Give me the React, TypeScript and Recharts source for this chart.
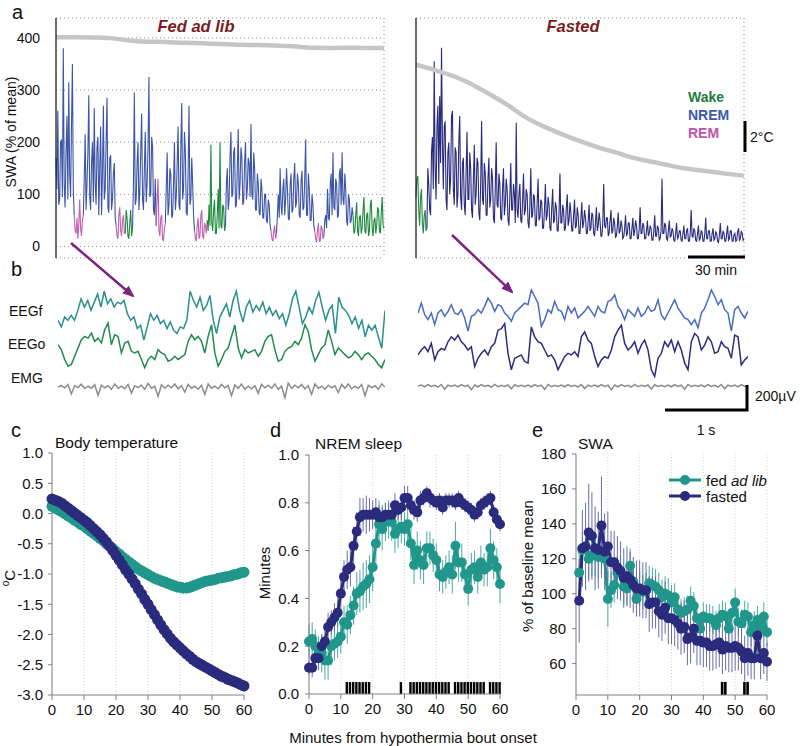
import React from "react";
import {
  ComposedChart, LineChart, Line, Bar, XAxis, YAxis, CartesianGrid, ErrorBar, Legend,
} from "recharts";

const FONT = "Arial, 'Liberation Sans', Helvetica, sans-serif";

// ---------- panel a: SWA over ~3 h, 30-s samples ----------
const MIN_TICKS = [0, 10, 20, 30, 40, 50, 60, 70, 80, 90, 100, 110, 120, 130, 140, 150, 160, 170, 180];
const SWA_TICKS = [0, 100, 200, 300, 400];

const fedSwa = [
  170, 110, 260, 80, 90, 200, 205, 95, 380, 120,
  75, 180, 250, 90, 315, 140, 95, 230, 350, 110,
  60, 30, 25, 55, 15, 40, 90, 35, 20, 50,
  60, 130, 215, 70, 120, 180, 290, 95, 70, 160,
  200, 85, 265, 120, 80, 190, 210, 60, 150, 230,
  60, 140, 270, 90, 110, 200, 285, 75, 65, 170,
  175, 70, 90, 140, 160, 55, 40, 20, 15, 60,
  75, 30, 20, 50, 60, 25, 25, 70, 55, 20,
  15, 45, 70, 20, 35, 120, 295, 80, 90, 160,
  200, 70, 110, 180, 255, 90, 70, 150, 220, 85,
  120, 190, 325, 95, 100, 210, 190, 70, 60, 130,
  40, 90, 130, 30, 20, 55, 60, 15, 10, 35,
  45, 110, 180, 60, 80, 150, 140, 55, 60, 120,
  200, 70, 95, 160, 230, 80, 70, 190, 275, 90,
  110, 220, 180, 65, 60, 140, 270, 80, 90, 170,
  120, 60, 30, 15, 10, 40, 55, 15, 20, 60,
  70, 20, 15, 45, 40, 25, 50, 30, 80, 40,
  195, 45, 30, 70, 90, 25, 25, 60, 110, 35,
  200, 40, 35, 80, 75, 30, 40, 120, 150, 70,
  90, 170, 220, 95, 100, 180, 190, 75, 80, 150,
  225, 90, 120, 190, 170, 80, 85, 160, 200, 90,
  110, 170, 160, 95, 235, 100, 90, 180, 150, 70,
  70, 140, 120, 65, 60, 130, 110, 55, 55, 100,
  100, 50, 45, 90, 80, 40, 30, 15, 10, 30,
  40, 15, 25, 60, 100, 55, 150, 80, 60, 110,
  130, 60, 90, 150, 110, 55, 50, 120, 140, 65,
  70, 130, 160, 75, 85, 140, 120, 60, 55, 125,
  145, 70, 75, 130, 205, 60, 60, 140, 110, 50,
  50, 100, 80, 40, 30, 15, 8, 30, 45, 10,
  10, 40, 35, 15, 20, 50, 60, 35, 110, 55,
  50, 120, 140, 60, 180, 75, 70, 130, 120, 55,
  60, 140, 150, 80, 180, 90, 80, 140, 110, 50,
  40, 100, 90, 45, 50, 75, 60, 25, 30, 60,
  85, 30, 20, 55, 60, 25, 35, 70, 95, 30,
  25, 60, 65, 20, 30, 80, 90, 35, 20, 50,
  55, 25, 40, 75, 70, 30, 25, 65, 95, 40,
  35,
];
const fedStates = [
  ["NREM", 0, 10], ["REM", 10, 15], ["NREM", 15, 33], ["REM", 33, 38], ["Wake", 38, 42],
  ["NREM", 42, 55], ["REM", 55, 60], ["NREM", 60, 76], ["REM", 76, 83], ["Wake", 83, 93],
  ["NREM", 93, 118], ["REM", 118, 121], ["NREM", 121, 142], ["REM", 142, 147],
  ["NREM", 147, 163], ["Wake", 163, 180],
];
const fedTemp = [38.25, 38.25, 38.24, 38.2, 38.05, 37.97, 37.95, 37.9, 37.87, 37.82, 37.78, 37.75, 37.72, 37.68, 37.58, 37.57, 37.58, 37.57, 37.57];

const fastedSwa = [
  95, 130, 135, 70, 40, 95, 110, 45, 25, 60,
  70, 30, 35, 150, 120, 70, 60, 180, 210, 110,
  355, 150, 90, 230, 270, 120, 288, 160, 381, 200,
  110, 230, 240, 90, 70, 180, 200, 100, 130, 250,
  260, 110, 80, 190, 180, 75, 100, 200, 250, 95,
  70, 160, 170, 80, 60, 140, 220, 90, 90, 180,
  150, 70, 55, 130, 195, 80, 100, 170, 160, 65,
  50, 120, 240, 90, 80, 160, 140, 60, 60, 130,
  170, 75, 90, 150, 130, 55, 45, 110, 200, 80,
  75, 140, 120, 55, 50, 110, 150, 60, 80, 130,
  110, 50, 40, 95, 160, 70, 70, 120, 100, 45,
  237, 70, 55, 100, 120, 50, 45, 90, 140, 60,
  70, 110, 100, 45, 35, 80, 150, 55, 60, 100,
  95, 40, 40, 85, 130, 50, 55, 90, 85, 35,
  35, 70, 120, 50, 60, 95, 80, 35, 30, 75,
  110, 45, 50, 85, 75, 30, 30, 65, 140, 45,
  45, 80, 70, 30, 35, 75, 100, 40, 50, 85,
  65, 30, 30, 60, 90, 35, 40, 75, 60, 25,
  25, 55, 85, 35, 45, 70, 55, 25, 25, 50,
  80, 30, 35, 65, 60, 25, 20, 45, 75, 30,
  40, 65, 50, 20, 20, 45, 120, 40, 35, 55,
  55, 20, 25, 50, 70, 25, 30, 55, 45, 18,
  20, 40, 65, 25, 30, 50, 40, 15, 18, 35,
  60, 20, 25, 45, 45, 15, 15, 35, 55, 20,
  30, 50, 40, 15, 15, 35, 75, 25, 25, 45,
  40, 15, 15, 30, 50, 20, 25, 40, 35, 12,
  12, 30, 60, 20, 20, 40, 35, 12, 15, 30,
  130, 25, 25, 45, 40, 15, 12, 30, 50, 18,
  20, 35, 30, 12, 10, 25, 45, 15, 18, 30,
  30, 12, 10, 25, 40, 15, 15, 30, 35, 10,
  10, 25, 70, 20, 18, 35, 30, 12, 10, 25,
  40, 12, 15, 30, 28, 10, 10, 25, 55, 15,
  15, 30, 30, 10, 10, 25, 35, 12, 15, 28,
  25, 10, 8, 22, 45, 15, 15, 30, 25, 10,
  10, 25, 40, 12, 15, 30, 30, 10, 10, 22,
  25, 10, 12, 28, 35, 12, 15, 30, 25, 12,
  15,
];
const fastedStates = [["Wake", 0, 6], ["NREM", 6, 180]];
const fastedTemp = [36.48, 36.15, 35.77, 35.26, 34.6, 33.9, 33.1, 32.5, 32.0, 31.55, 31.15, 30.8, 30.45, 30.2, 29.95, 29.75, 29.6, 29.45, 29.32];

// ---------- panel b: raw traces (µV, 4 s) ----------
const eegfFed = [
  -26, -78, 0, -26, 13, -26, 52, 143, 78, 130, 52, 117, 182, 78, 203, 104, 143, 78, 117, 104,
  130, 26, -26, 0, -91, -65, -182, -78, 26, -26, 13, -52, -26, -91, -39, -104, -130, -78, -91, -26,
  203, 130, 78, 156, 52, 91, 169, -26, -130, 0, 52, 104, 0, 130, 203, 52, -39, 78, 130, 39,
  91, 52, 117, 26, 78, 13, 52, -13, 26, -65, 26, 143, 203, 78, -52, 0, 78, 26, 130, 195,
  78, -26, 52, 91, -130, 156, 78, 52, 13, -52, 0, -91, -26, -156, -65, -104, -65, -156, -247, 52,
];
const eegoFed = [
  26, -13, -91, -143, -130, -65, 0, 65, 91, 78, 117, 52, 78, 39, 143, 195, 26, 104, 91, -39,
  39, 52, -26, -39, -26, -91, -156, -91, -65, -91, -13, -39, -52, -104, -91, -65, -91, -70, -52, 52,
  104, 65, 91, 52, -39, 91, 182, -39, -143, -91, -26, 0, 91, 182, 0, -78, -13, -39, -26, -13,
  -65, -26, 52, 91, 104, -13, -104, -91, -26, 0, 13, 52, 26, 78, 182, 130, -13, -104, -52, 0,
  26, 143, 52, -52, 0, -26, -52, -78, -65, -26, -52, -91, -52, -39, -65, -91, -130, -156, -91,
];
const emgFed = [
  0, 12, -8, 18, -55, 10, -5, 22, -12, 6, -10, 18, -65, 14, -6, 10, -18, 24, -10, 6,
  -14, 20, -48, 10, -4, 14, -18, 28, -10, 6, -75, 18, -10, 14, -6, 24, -14, 10, -40, 20,
  -10, 6, -18, 14, -58, 24, -10, 6, -14, 20, -6, 10, -68, 16, -10, 24, -18, 6, -14, 10,
  -50, 20, -6, 14, -10, 24, -18, 6, -85, 30, -10, 14, -6, 20, -14, 10, -58, 24, -10, 6,
  -18, 14, -6, 10, -45, 20, -10, 24, -14, 6, -10, 20, -70, 14, -6, 10, -18, 24, 0,
];
const eegfFasted = [
  0, 78, -13, -52, 0, -91, 0, 26, -26, 13, 65, 0, -13, 26, -39, -143, -26, -13, 26, 0,
  52, 117, 78, 13, 65, 52, 0, -26, -65, 0, 26, 52, 78, 65, 182, 130, 78, -104, -52, 26,
  0, 91, 26, 13, -52, 52, 0, 39, -39, -13, 13, 52, 13, -26, 52, 13, 0, 91, 104, 143,
  52, 13, -52, 26, 0, -26, 39, -26, 0, 52, 13, 26, 104, -13, -52, 0, 52, 104, 39, 0,
  -39, -52, -91, -52, -117, 0, 39, 104, 182, 130, 65, 104, 26, 0, -143, 26, 52, 0, -39, 13,
];
const eegoFasted = [
  -39, 0, 26, -13, 52, -78, -13, 13, 0, 65, 104, 78, 117, 65, 39, 0, 26, -130, -65, -26,
  0, -39, 26, 52, 156, 169, 208, -26, -156, -65, -52, -39, -91, -104, 182, 104, 65, 52, 0, -52,
  -39, -78, -156, -104, -52, -26, -39, -13, -52, 104, 143, 78, 52, -52, -130, -78, -52, -65, 0, 104,
  156, 195, 52, 0, 26, 65, -26, 39, 78, 0, -156, -208, -65, -26, 65, 26, 78, -13, 65, 0,
  -104, -156, 65, 130, 104, 0, 39, 104, 65, -26, -13, 65, 26, 13, -65, 117, 104, -117, -78, -52,
];
const emgFasted = [
  0, 8, -6, 10, -4, 6, -8, 12, -25, 6, -4, 8, -6, 10, -4, 6, -30, 8, -6, 10,
  -4, 6, -8, 12, -5, 6, -4, 8, -22, 10, -4, 6, -6, 8, -6, 10, -4, 6, -28, 12,
  -5, 6, -4, 8, -6, 10, -4, 6, -8, 12, -20, 6, -4, 8, -6, 10, -4, 6, -30, 8,
  -6, 10, -4, 6, -8, 12, -5, 6, -4, 8, -24, 10, -4, 6, -6, 8, -6, 10, -4, 6,
  -26, 12, -5, 6, -4, 8, -6, 10, -4, 6, -8, 12, -22, 6, -4, 8, -6, 10, -4, 6,
];

// ---------- panels c-e: 1-min means ----------
const X_TICKS = [0, 10, 20, 30, 40, 50, 60];

const tempFed = [
  0.12, 0.09, 0.06, 0.03, 0.0, -0.04, -0.07, -0.11, -0.14, -0.18,
  -0.21, -0.25, -0.29, -0.33, -0.37, -0.41, -0.45, -0.5, -0.54, -0.58,
  -0.63, -0.67, -0.72, -0.76, -0.8, -0.84, -0.88, -0.92, -0.95, -0.98,
  -1.01, -1.04, -1.07, -1.09, -1.11, -1.13, -1.15, -1.17, -1.19, -1.21,
  -1.22, -1.23, -1.23, -1.22, -1.2, -1.18, -1.16, -1.14, -1.12, -1.11,
  -1.1, -1.09, -1.07, -1.06, -1.05, -1.04, -1.03, -1.01, -1.0, -0.98, -0.97,
];
const tempFedErr = [
  0.03, 0.03, 0.03, 0.03, 0.03, 0.03, 0.03, 0.03, 0.03, 0.03,
  0.03, 0.03, 0.03, 0.03, 0.04, 0.05, 0.05, 0.06, 0.07, 0.08,
  0.09, 0.09, 0.1, 0.1, 0.1, 0.1, 0.1, 0.1, 0.1, 0.1,
  0.1, 0.1, 0.1, 0.1, 0.1, 0.1, 0.1, 0.1, 0.1, 0.1,
  0.1, 0.1, 0.1, 0.1, 0.1, 0.09, 0.09, 0.09, 0.09, 0.09,
  0.09, 0.09, 0.09, 0.09, 0.09, 0.09, 0.09, 0.09, 0.09, 0.09, 0.09,
];
const tempFasted = [
  0.24, 0.22, 0.2, 0.17, 0.13, 0.09, 0.05, 0.01, -0.03, -0.07,
  -0.11, -0.15, -0.2, -0.25, -0.3, -0.35, -0.41, -0.47, -0.54, -0.61,
  -0.69, -0.77, -0.85, -0.93, -1.0, -1.08, -1.16, -1.25, -1.33, -1.42,
  -1.5, -1.59, -1.67, -1.76, -1.84, -1.92, -1.99, -2.06, -2.12, -2.17,
  -2.22, -2.27, -2.32, -2.36, -2.41, -2.45, -2.48, -2.51, -2.54, -2.57,
  -2.6, -2.63, -2.66, -2.69, -2.71, -2.74, -2.76, -2.78, -2.8, -2.83, -2.85,
];
const tempFastedErr = [
  0.03, 0.03, 0.03, 0.03, 0.03, 0.03, 0.03, 0.03, 0.03, 0.03,
  0.03, 0.03, 0.03, 0.03, 0.03, 0.03, 0.03, 0.03, 0.03, 0.03,
  0.03, 0.03, 0.03, 0.03, 0.03, 0.03, 0.03, 0.03, 0.03, 0.03,
  0.04, 0.04, 0.05, 0.05, 0.05, 0.06, 0.06, 0.07, 0.07, 0.08,
  0.08, 0.08, 0.09, 0.09, 0.09, 0.09, 0.09, 0.1, 0.1, 0.1,
  0.1, 0.1, 0.1, 0.1, 0.1, 0.1, 0.1, 0.1, 0.1, 0.1, 0.1,
];

const nremFed = [
  0.22, 0.23, 0.2, 0.17, 0.17, 0.14, 0.14, 0.2, 0.21, 0.22,
  0.24, 0.3, 0.29, 0.33, 0.37, 0.42, 0.43, 0.45, 0.46, 0.48,
  0.53, 0.63, 0.71, 0.69, 0.72, 0.73, 0.72, 0.67, 0.69, 0.7,
  0.69, 0.71, 0.63, 0.54, 0.6, 0.56, 0.54, 0.61, 0.61, 0.58,
  0.56, 0.5, 0.49, 0.51, 0.53, 0.5, 0.62, 0.55, 0.55, 0.5,
  0.44, 0.52, 0.53, 0.49, 0.55, 0.52, 0.53, 0.61, 0.56, 0.53, 0.46,
];
const nremFedErr = [
  0.07, 0.07, 0.07, 0.07, 0.08, 0.08, 0.08, 0.08, 0.07, 0.07,
  0.07, 0.07, 0.08, 0.08, 0.08, 0.09, 0.09, 0.1, 0.1, 0.1,
  0.1, 0.1, 0.1, 0.09, 0.08, 0.08, 0.08, 0.08, 0.08, 0.07,
  0.07, 0.07, 0.07, 0.08, 0.08, 0.08, 0.08, 0.07, 0.07, 0.07,
  0.07, 0.07, 0.07, 0.07, 0.07, 0.08, 0.1, 0.08, 0.08, 0.07,
  0.07, 0.07, 0.07, 0.07, 0.07, 0.07, 0.08, 0.08, 0.08, 0.08, 0.08,
];
const nremFasted = [
  0.11, 0.11, 0.15, 0.15, 0.2, 0.22, 0.28, 0.3, 0.32, 0.34,
  0.42, 0.49, 0.52, 0.53, 0.62, 0.68, 0.74, 0.75, 0.75, 0.75,
  0.75, 0.76, 0.74, 0.74, 0.75, 0.75, 0.75, 0.79, 0.77, 0.78,
  0.82, 0.82, 0.79, 0.77, 0.76, 0.81, 0.82, 0.84, 0.82, 0.81,
  0.8, 0.81, 0.78, 0.81, 0.81, 0.81, 0.8, 0.82, 0.8, 0.79,
  0.78, 0.77, 0.75, 0.76, 0.79, 0.8, 0.81, 0.82, 0.76, 0.73, 0.71,
];
const nremFastedErr = [
  0.03, 0.04, 0.04, 0.05, 0.05, 0.06, 0.06, 0.05, 0.06, 0.06,
  0.07, 0.07, 0.08, 0.08, 0.08, 0.08, 0.08, 0.07, 0.08, 0.07,
  0.06, 0.06, 0.05, 0.05, 0.05, 0.05, 0.05, 0.05, 0.04, 0.05,
  0.05, 0.05, 0.04, 0.04, 0.04, 0.04, 0.03, 0.03, 0.04, 0.03,
  0.03, 0.03, 0.03, 0.03, 0.03, 0.03, 0.03, 0.03, 0.03, 0.03,
  0.03, 0.03, 0.03, 0.03, 0.03, 0.03, 0.03, 0.03, 0.03, 0.03, 0.03,
];
const nremSig = [12, 13, 14, 15, 16, 17, 18, 19, 29, 32, 33, 34, 35, 36, 37, 38, 39, 40, 41, 42, 43, 44,
  46, 47, 48, 49, 50, 51, 52, 53, 54, 55, 57, 58, 59, 60];

// SWA minutes 1..60
const swaFed = [
  112, 125, 127, 120, 122, 122, 121, 121, 120, 97,
  102, 105, 112, 112, 104, 103, 116, 107, 97, 103,
  101, 102, 106, 105, 104, 102, 98, 100, 99, 95,
  98, 91, 89, 90, 91, 96, 93, 86, 80, 87,
  86, 86, 85, 82, 86, 88, 87, 80, 89, 95,
  84, 83, 88, 87, 78, 82, 85, 80, 87, 78,
];
const swaFedErr = [
  12, 10, 10, 12, 12, 12, 12, 12, 10, 16,
  10, 10, 10, 10, 10, 10, 10, 10, 10, 10,
  10, 10, 10, 10, 10, 10, 10, 10, 10, 10,
  8, 8, 8, 8, 8, 8, 8, 8, 8, 8,
  8, 8, 8, 8, 8, 8, 8, 8, 8, 8,
  8, 8, 8, 8, 8, 8, 8, 8, 8, 8,
];
const swaFasted = [
  96, 126, 127, 135, 133, 126, 125, 139, 124, 127,
  118, 118, 115, 113, 109, 110, 108, 105, 103, 103,
  102, 102, 94, 95, 95, 90, 88, 92, 86, 86,
  85, 83, 80, 81, 74, 75, 80, 73, 73, 72,
  72, 70, 70, 71, 72, 68, 70, 69, 69, 70,
  69, 67, 63, 66, 63, 63, 76, 63, 66, 61,
];
const swaFastedErr = [
  24, 22, 25, 28, 25, 24, 22, 28, 22, 20,
  18, 18, 18, 17, 17, 17, 16, 16, 16, 16,
  16, 16, 16, 15, 15, 15, 15, 15, 15, 15,
  15, 15, 15, 15, 15, 15, 14, 14, 14, 14,
  14, 14, 14, 14, 14, 14, 14, 14, 14, 14,
  13, 13, 13, 13, 12, 12, 12, 12, 12, 11,
];
const swaSig = [46, 47, 53, 54];
const LEGEND_ORDER = ["fed ad lib", "fasted"];

const TEAL = "#21978c";
const NAVY = "#2b2b7e";
const TEAL_ERR = "#4aa9a0";
const NAVY_ERR = "#6a6aa8";

const tickStyle = { fontSize: 15, fill: "#111" };

function SwaPanel({ left, width, axisWidth, swa, states, temp, colors, showLabels }: any) {
  // 30-s samples; temperature only every 10 min
  const data = swa.map((v: number, k: number) => {
    const t = k / 2;
    const row: any = { t, temp: k % 20 === 0 ? temp[k / 20] : null };
    states.forEach(([st, a, b]: any) => {
      if (t >= a && t <= b) row[st] = v;
    });
    return row;
  });
  const keys = Array.from(new Set(states.map((s: any) => s[0]))) as string[];
  return (
    <div style={{ position: "absolute", left, top: 0 }}>
      <ComposedChart width={width} height={270} data={data} margin={{ top: 18, right: 6, bottom: 12, left: 0 }}>
        <CartesianGrid stroke="#8e8e8e" strokeDasharray="1 3" />
        <XAxis dataKey="t" type="number" domain={[0, 180]} ticks={MIN_TICKS} height={0}
          axisLine={false} tickLine={false} tick={false} />
        <YAxis domain={[-22, 438]} ticks={SWA_TICKS} width={axisWidth}
          axisLine={{ stroke: "#222", strokeWidth: 1.3 }} tickLine={false} tickMargin={10}
          tick={showLabels ? { fontSize: 14, fill: "#111" } : false} />
        <YAxis yAxisId="temp" domain={[24, 39.5]} hide />
        {keys.map((k) => (
          <Line key={k} dataKey={k} stroke={colors[k]} strokeWidth={1.1} dot={false}
            isAnimationActive={false} />
        ))}
        <Line yAxisId="temp" dataKey="temp" type="monotone" connectNulls stroke="#c6c6c6"
          strokeWidth={4.5} dot={false} isAnimationActive={false} />
      </ComposedChart>
    </div>
  );
}

function Trace({ values, color, left, top, width, sw = 1.5 }: any) {
  const data = values.map((v: number, i: number) => ({ i, v }));
  return (
    <div style={{ position: "absolute", left, top }}>
      <LineChart width={width} height={66} data={data} margin={{ top: 0, right: 0, bottom: 0, left: 0 }}>
        <XAxis dataKey="i" type="number" domain={[0, values.length - 1]} hide />
        <YAxis domain={[-260, 260]} hide />
        <Line dataKey="v" stroke={color} strokeWidth={sw} dot={false} isAnimationActive={false} />
      </LineChart>
    </div>
  );
}

const renderLegend = ({ payload }: any) => {
  const items = LEGEND_ORDER.map((name) => (payload || []).find((p: any) => p.value === name)).filter(Boolean);
  return (
    <div style={{ fontSize: 15, color: "#111" }}>
      {items.map((p: any) => (
        <div key={p.value} style={{ display: "flex", alignItems: "center", height: 16 }}>
          <svg width={34} height={12}>
            <line x1={1} y1={6} x2={33} y2={6} stroke={p.color} strokeWidth={3} />
            <circle cx={17} cy={6} r={5} fill={p.color} />
          </svg>
          <span style={{ marginLeft: 4 }}>
            {p.value === "fed ad lib" ? <>fed <i>ad lib</i></> : p.value}
          </span>
        </div>
      ))}
    </div>
  );
};

export default function App() {
  const cRows = tempFed.map((v, t) => ({
    t, fed: v, fedErr: tempFedErr[t], fasted: tempFasted[t], fastedErr: tempFastedErr[t],
  }));
  const dRows = nremFed.map((v, t) => ({
    t, fed: v, fedErr: nremFedErr[t], fasted: nremFasted[t], fastedErr: nremFastedErr[t],
    sig: nremSig.includes(t) ? 0.05 : null,
  }));
  const eRows = swaFed.map((v, i) => ({
    t: i + 1, fed: v, fedErr: swaFedErr[i], fasted: swaFasted[i], fastedErr: swaFastedErr[i],
    sig: swaSig.includes(i + 1) ? 49.5 : null,
  }));

  const axisGray = { stroke: "#808080" };
  const dotT = { r: 5.5, fill: TEAL, stroke: "none" };
  const dotN = { r: 5.5, fill: NAVY, stroke: "none" };

  return (
    <div style={{ position: "absolute", left: 0, top: 0, width: 800, height: 746, background: "#fff", fontFamily: FONT, overflow: "hidden" }}>
      {/* a */}
      <SwaPanel left={0} width={390} axisWidth={56} swa={fedSwa} states={fedStates} temp={fedTemp}
        colors={{ NREM: "#3c55a8", REM: "#c45fb2", Wake: "#1f8a3e" }} showLabels />
      <SwaPanel left={410} width={340} axisWidth={6} swa={fastedSwa} states={fastedStates} temp={fastedTemp}
        colors={{ NREM: "#282b7e", Wake: "#1f8a3e" }} showLabels={false} />

      {/* b */}
      <Trace values={eegfFed} color="#2a8f8f" left={58} top={284} width={327} />
      <Trace values={eegoFed} color="#218a4e" left={58} top={315} width={327} />
      <Trace values={emgFed} color="#8c8c8c" left={58} top={354} width={327} />
      <Trace values={eegfFasted} color="#4a6cc0" left={418} top={280} width={330} />
      <Trace values={eegoFasted} color="#2b2d80" left={418} top={317} width={330} />
      <Trace values={emgFasted} color="#8c8c8c" left={418} top={353} width={330} />

      {/* c */}
      <div style={{ position: "absolute", left: 0, top: 420 }}>
        <ComposedChart width={260} height={326} data={cRows} margin={{ top: 33, right: 16, bottom: 21, left: 0 }}>
          <CartesianGrid horizontal={false} stroke="#d4d4d4" strokeDasharray="1 2" />
          <XAxis dataKey="t" type="number" domain={[0, 60]} ticks={X_TICKS} height={30}
            axisLine={axisGray} tickLine={axisGray} tickSize={5} tickMargin={4} tick={tickStyle} />
          <YAxis domain={[-3, 1]} ticks={[-3, -2.5, -2, -1.5, -1, -0.5, 0, 0.5, 1]} width={52}
            axisLine={axisGray} tickLine={axisGray} tickSize={4} tickMargin={5} tick={tickStyle}
            tickFormatter={(v: number) => v.toFixed(1)} />
          <Line dataKey="fed" stroke={TEAL} strokeWidth={3} dot={dotT} isAnimationActive={false}>
            <ErrorBar dataKey="fedErr" width={0} stroke={TEAL_ERR} strokeWidth={1} direction="y" />
          </Line>
          <Line dataKey="fasted" stroke={NAVY} strokeWidth={3} dot={dotN} isAnimationActive={false}>
            <ErrorBar dataKey="fastedErr" width={0} stroke={NAVY_ERR} strokeWidth={1} direction="y" />
          </Line>
        </ComposedChart>
      </div>

      {/* d */}
      <div style={{ position: "absolute", left: 260, top: 420 }}>
        <ComposedChart width={260} height={326} data={dRows} margin={{ top: 35, right: 20, bottom: 22, left: 0 }}>
          <CartesianGrid horizontal={false} stroke="#d4d4d4" strokeDasharray="1 2" />
          <XAxis dataKey="t" type="number" domain={[0, 60]} ticks={X_TICKS} height={30}
            axisLine={axisGray} tickLine={axisGray} tickSize={5} tickMargin={4} tick={tickStyle} />
          <YAxis domain={[0, 1]} ticks={[0, 0.2, 0.4, 0.6, 0.8, 1]} width={49}
            axisLine={axisGray} tickLine={axisGray} tickSize={4} tickMargin={6} tick={tickStyle}
            tickFormatter={(v: number) => v.toFixed(1)} />
          <Bar dataKey="sig" fill="#000" barSize={2.4} legendType="none" isAnimationActive={false} />
          <Line dataKey="fed" stroke={TEAL} strokeWidth={3} dot={{ r: 5, fill: TEAL, stroke: "none" }} isAnimationActive={false}>
            <ErrorBar dataKey="fedErr" width={0} stroke={TEAL_ERR} strokeWidth={1} direction="y" />
          </Line>
          <Line dataKey="fasted" stroke={NAVY} strokeWidth={3} dot={{ r: 5, fill: NAVY, stroke: "none" }} isAnimationActive={false}>
            <ErrorBar dataKey="fastedErr" width={0} stroke={NAVY_ERR} strokeWidth={1} direction="y" />
          </Line>
        </ComposedChart>
      </div>

      {/* e */}
      <div style={{ position: "absolute", left: 520, top: 420 }}>
        <ComposedChart width={280} height={326} data={eRows} margin={{ top: 34, right: 33, bottom: 21, left: 0 }}>
          <CartesianGrid horizontal={false} stroke="#d4d4d4" strokeDasharray="1 2" />
          <XAxis dataKey="t" type="number" domain={[0, 60]} ticks={X_TICKS} height={30}
            axisLine={axisGray} tickLine={axisGray} tickSize={5} tickMargin={4} tick={tickStyle} />
          <YAxis domain={[42, 180]} ticks={[60, 80, 100, 120, 140, 160, 180]} width={56}
            axisLine={axisGray} tickLine={axisGray} tickSize={4} tickMargin={6} tick={tickStyle} />
          <Bar dataKey="sig" fill="#000" barSize={2.6} legendType="none" isAnimationActive={false} />
          <Line name="fed ad lib" dataKey="fed" stroke={TEAL} strokeWidth={3} dot={{ r: 5, fill: TEAL, stroke: "none" }} isAnimationActive={false}>
            <ErrorBar dataKey="fedErr" width={0} stroke={TEAL_ERR} strokeWidth={1} direction="y" />
          </Line>
          <Line name="fasted" dataKey="fasted" stroke={NAVY} strokeWidth={3} dot={{ r: 5, fill: NAVY, stroke: "none" }} isAnimationActive={false}>
            <ErrorBar dataKey="fastedErr" width={0} stroke={NAVY_ERR} strokeWidth={1} direction="y" />
          </Line>
          <Legend layout="vertical" verticalAlign="middle" align="center" content={renderLegend}
            wrapperStyle={{ left: 148, top: 52, width: 130 }} />
        </ComposedChart>
      </div>

      {/* annotations */}
      <svg width={800} height={746} style={{ position: "absolute", left: 0, top: 0, pointerEvents: "none" }}
        fontFamily={FONT}>
        <defs>
          <marker id="ah" markerUnits="userSpaceOnUse" markerWidth={12} markerHeight={10} refX={10} refY={5} orient="auto">
            <path d="M0,0 L12,5 L0,10 z" fill="#7b2382" />
          </marker>
        </defs>
        <g fontSize={20} fill="#111">
          <text x={12} y={19}>a</text>
          <text x={11} y={276}>b</text>
          <text x={11} y={437}>c</text>
          <text x={270} y={437}>d</text>
          <text x={532} y={437}>e</text>
        </g>
        <text x={12} y={132} fontSize={14} textAnchor="middle" dominantBaseline="middle"
          transform="rotate(-90 12 132)" fill="#111">SWA (% of mean)</text>
        <g fontSize={16.5} fontWeight="bold" fontStyle="italic" fill="#7a1c1c" textAnchor="middle">
          <text x={196} y={32}>Fed ad lib</text>
          <text x={573} y={32}>Fasted</text>
        </g>
        <g fontSize={14} fontWeight="bold">
          <text x={688} y={102} fill="#1e7b3c">Wake</text>
          <text x={688} y={120} fill="#3c5aae">NREM</text>
          <text x={688} y={138} fill="#c054a8">REM</text>
        </g>
        <line x1={745} y1={121} x2={745} y2={152} stroke="#000" strokeWidth={3} />
        <text x={750} y={142} fontSize={14} fill="#111">2°C</text>
        <line x1={688} y1={257} x2={745} y2={257} stroke="#000" strokeWidth={3} />
        <text x={716} y={275} fontSize={14} textAnchor="middle" fill="#111">30 min</text>
        <line x1={71} y1={243} x2={133} y2={296} stroke="#7b2382" strokeWidth={2.5} markerEnd="url(#ah)" />
        <line x1={452} y1={235} x2={512} y2={292} stroke="#7b2382" strokeWidth={2.5} markerEnd="url(#ah)" />
        <g fontSize={14} fill="#111">
          <text x={9} y={316}>EEGf</text>
          <text x={8} y={349}>EEGo</text>
          <text x={11} y={383}>EMG</text>
        </g>
        <polyline points="665,410 747,410 747,385" fill="none" stroke="#000" strokeWidth={3} />
        <text x={755} y={401} fontSize={14} fill="#111">200µV</text>
        <text x={706} y={435} fontSize={14} textAnchor="middle" fill="#111">1 s</text>
        <g fontSize={15.5} fill="#111">
          <text x={55} y={448}>Body temperature</text>
          <text x={315} y={449}>NREM sleep</text>
          <text x={578} y={449}>SWA</text>
        </g>
        <text x={11} y={578} fontSize={15} textAnchor="middle" dominantBaseline="middle"
          transform="rotate(-90 11 578)" fill="#111"><tspan fontSize={10} dy={-5}>o</tspan><tspan dy={5}>C</tspan></text>
        <text x={266} y={573} fontSize={15} textAnchor="middle" dominantBaseline="middle"
          transform="rotate(-90 266 573)" fill="#111">Minutes</text>
        <text x={529} y={566} fontSize={15} textAnchor="middle" dominantBaseline="middle"
          transform="rotate(-90 529 566)" fill="#111">% of baseline mean</text>
        <text x={413} y={743} fontSize={15} textAnchor="middle" fill="#111">Minutes from hypothermia bout onset</text>
      </svg>
    </div>
  );
}
